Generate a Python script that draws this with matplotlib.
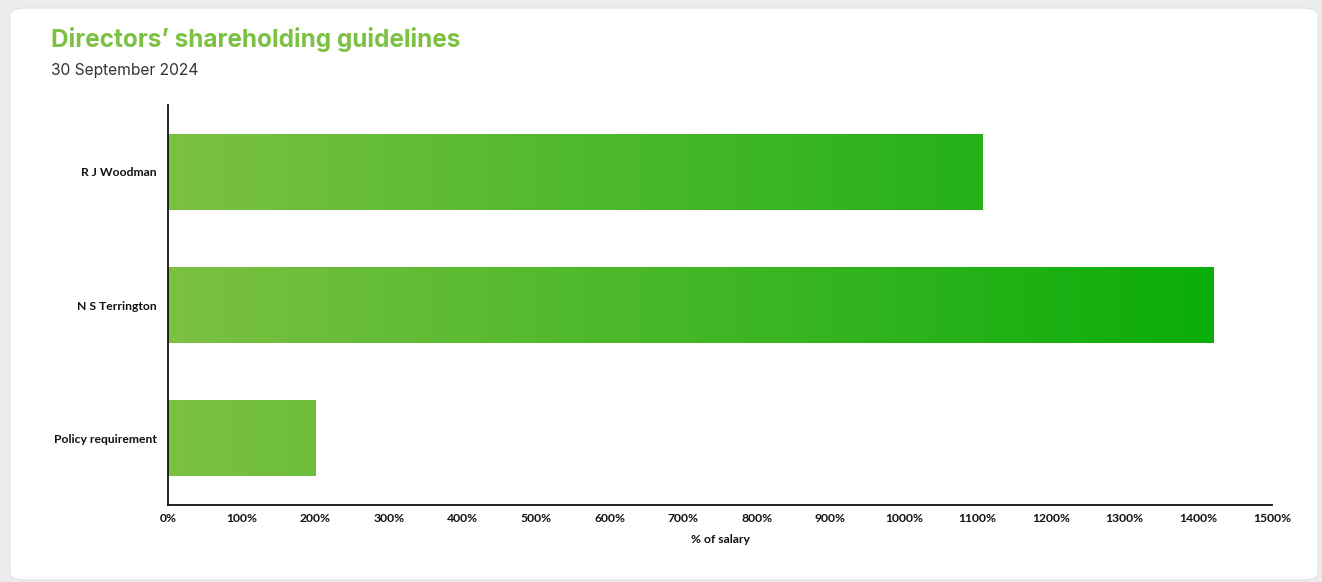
import numpy as np
import matplotlib.pyplot as plt
from matplotlib.patches import FancyBboxPatch
from matplotlib.colors import LinearSegmentedColormap

directors = ["R J Woodman", "N S Terrington", "Policy requirement"]
pct_salary = [1106, 1421, 200]
xticks = list(range(0, 1501, 100))
xtick_labels = [f"{t}%" for t in xticks]

W, H = 1322, 582
fig = plt.figure(figsize=(W / 100, H / 100), dpi=100)
fig.patch.set_facecolor("#ececec")

# white card with rounded corner
card = FancyBboxPatch((10 / W, 2 / H), (W - 14) / W, (H - 10) / H,
                      boxstyle="round,pad=0,rounding_size=0.012",
                      transform=fig.transFigure, facecolor="white",
                      edgecolor="#e2e2e2", linewidth=0.8, zorder=-1)
fig.patches.append(card)

fig.text(51 / W, 1 - 40 / H, "Directors\u2019 shareholding guidelines",
         fontsize=17.5, fontweight="bold", color="#7dc142",
         family="Inter", va="center", ha="left")
fig.text(51 / W, 1 - 71 / H, "30 September 2024", fontsize=11.2,
         color="#333333", family="Inter", va="center", ha="left")

ax = fig.add_axes([168 / W, 1 - 505 / H, (1272 - 168) / W, 400 / H])
ax.set_facecolor("none")

cmap = LinearSegmentedColormap.from_list("grn", ["#7dc142", "#0aad0a"])
grad = np.linspace(0, 1, 256).reshape(1, -1)
vmax = max(pct_salary)
ypos = np.arange(len(directors))
bh = 0.57
for y, v in zip(ypos, pct_salary):
    bar = ax.barh(y, v, height=bh, color="none", edgecolor="none")[0]
    im = ax.imshow(grad, cmap=cmap, aspect="auto",
                   extent=(0, vmax, y + bh / 2, y - bh / 2), zorder=2)
    im.set_clip_path(bar)

ax.set_xlim(0, 1500)
ax.set_ylim(len(directors) - 0.5, -0.5)
ax.set_xticks(xticks)
ax.set_xticklabels(xtick_labels)
ax.set_yticks(ypos)
ax.set_yticklabels(directors)
ax.tick_params(axis="x", length=0, pad=6)
ax.tick_params(axis="y", length=0, pad=8)
for lbl in ax.get_xticklabels() + ax.get_yticklabels():
    lbl.set_fontfamily("Lato")
    lbl.set_fontweight("bold")
    lbl.set_fontsize(8.7)
    lbl.set_color("#111111")
ax.set_xlabel("% of salary", fontsize=8.7, fontweight="bold",
              family="Lato", labelpad=7, color="#111111")
for s in ["top", "right"]:
    ax.spines[s].set_visible(False)
for s in ["left", "bottom"]:
    ax.spines[s].set_linewidth(1.3)
    ax.spines[s].set_color("#111111")

fig.savefig("out.png", dpi=100)
